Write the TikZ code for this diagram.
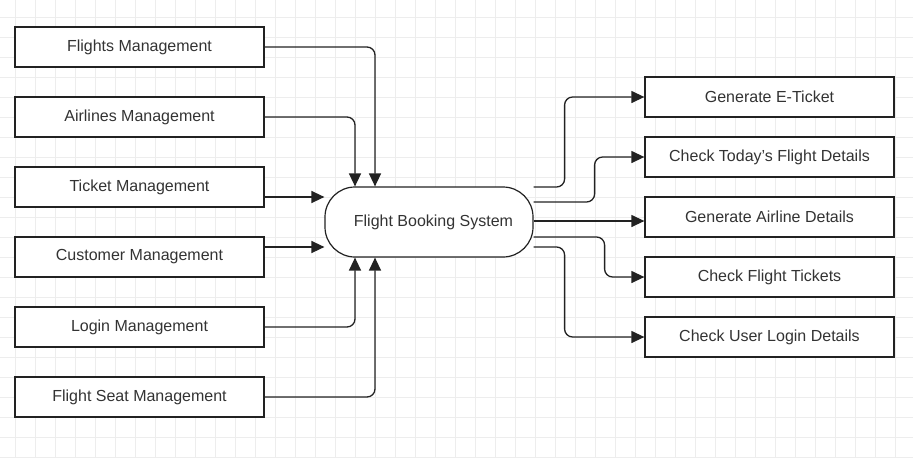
\documentclass[tikz,border=0pt]{standalone}
\usepackage{fontspec}
\setmainfont{Liberation Sans}
\usetikzlibrary{arrows.meta,calc}
\definecolor{ink}{HTML}{222222}
\definecolor{txt}{HTML}{333333}
\definecolor{gridc}{HTML}{EDEDED}
\begin{document}
\begin{tikzpicture}[x=1pt,y=-1pt,
  box/.style={draw=ink,line width=1.3pt,fill=white,minimum width=249pt,minimum height=40pt,inner sep=0pt,text=txt,font=\fontsize{16}{19}\selectfont},
  sysbox/.style={draw=ink,line width=1.2pt,fill=white,rounded corners=30pt,minimum width=208pt,minimum height=70pt,inner sep=0pt,text=txt,font=\fontsize{16}{19}\selectfont},
  conn/.style={draw=ink,line width=1.3pt,rounded corners=8pt,-{Triangle[length=13pt,width=12pt]}}]
\useasboundingbox (0,0) rectangle (913,458);
\fill[white] (0,0) rectangle (913,458);
\foreach \i in {0,...,44} \draw[gridc,line width=0.8pt] (15+20*\i,0) -- (15+20*\i,458);
\foreach \j in {0,...,22} \draw[gridc,line width=0.8pt] (0,17+20*\j) -- (913,17+20*\j);
% left boxes
\node[box] (fm) at (139.5,47) {Flights Management};
\node[box] (am) at (139.5,117) {Airlines Management};
\node[box] (tm) at (139.5,187) {Ticket Management};
\node[box] (cm) at (139.5,257) {Customer Management};
\node[box] (lm) at (139.5,327) {Login Management};
\node[box] (fs) at (139.5,397) {Flight Seat Management};
% centre
\node[sysbox] (sys) at (429,222) {\raisebox{-1.5pt}{\hspace*{9pt}Flight Booking System}};
% right boxes
\node[box] (et) at (769.5,97) {Generate E-Ticket};
\node[box] (ct) at (769.5,157) {Check Today{\char"0027}s Flight Details};
\node[box] (ga) at (769.5,217) {Generate Airline Details};
\node[box] (cf) at (769.5,277) {Check Flight Tickets};
\node[box] (cu) at (769.5,337) {Check User Login Details};
% left connectors
\draw[conn] (fm.east) -| ([xshift=-54pt]sys.north);
\draw[conn] (am.east) -| ([xshift=-74pt]sys.north);
\draw[conn] ([yshift=-10pt]tm.east) -- ([yshift=-10pt]tm.east -| sys.west);
\draw[conn] ([yshift=10pt]cm.east) -- ([yshift=10pt]cm.east -| sys.west);
\draw[conn] (lm.east) -| ([xshift=-74pt]sys.south);
\draw[conn] (fs.east) -| ([xshift=-54pt]sys.south);
% right connectors
\draw[conn] ([yshift=35pt]sys.east) -- ++(31,0) |- (et.west);
\draw[conn] ([yshift=20pt]sys.east) -- ++(61,0) |- (ct.west);
\draw[conn] ([yshift=1pt]sys.east) -- ([yshift=1pt]sys.east -| ga.west);
\draw[conn] ([yshift=-15pt]sys.east) -- ++(71,0) |- (cf.west);
\draw[conn] ([yshift=-25pt]sys.east) -- ++(31,0) |- (cu.west);
\end{tikzpicture}
\end{document}
